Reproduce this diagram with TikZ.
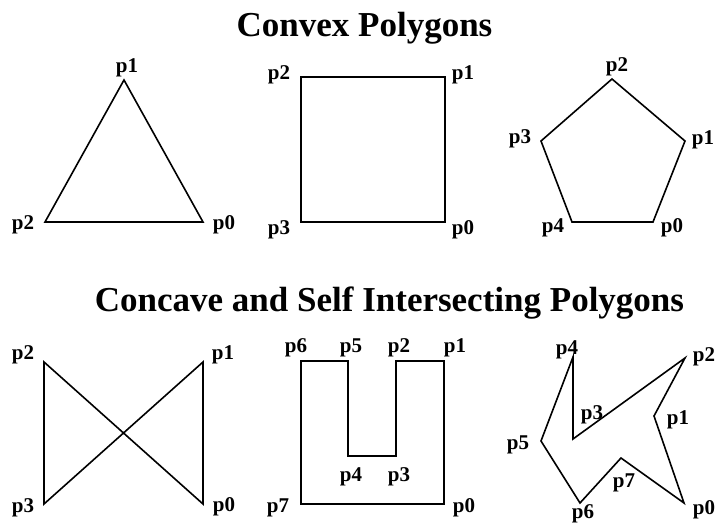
\documentclass[tikz,border=0pt]{standalone}
\usepackage{fontspec}
\setmainfont{Liberation Serif}
\begin{document}
\begin{tikzpicture}[x=1pt,y=-1pt,
  poly/.style={draw=black,line width=1.6pt,line join=miter},
  lbl/.style={font=\fontsize{21}{22}\selectfont\bfseries,inner sep=0pt},
  ttl/.style={font=\fontsize{35}{40}\selectfont\bfseries,inner sep=0pt,anchor=base}]
\useasboundingbox[fill=white] (0,0) rectangle (716,524);
% titles
\node[ttl] (t1) at (364.5,37) {Convex Polygons};
\node[ttl] (t2) at (389.5,312) {Concave and Self Intersecting Polygons};
% triangle
\coordinate (a0) at (203,222);
\coordinate (a1) at (124,80);
\coordinate (a2) at (45,222);
\draw[poly] (a0) -- (a1) -- (a2) -- cycle;
\node[lbl] (la1) at (127,68) {p1};
\node[lbl] (la2) at (23,225) {p2};
\node[lbl] (la0) at (224,225) {p0};
% square
\coordinate (b0) at (445,222);
\coordinate (b1) at (445,77);
\coordinate (b2) at (301,77);
\coordinate (b3) at (301,222);
\draw[poly] (b0) -- (b1) -- (b2) -- (b3) -- cycle;
\node[lbl] (lb2) at (279,75) {p2};
\node[lbl] (lb1) at (463,75) {p1};
\node[lbl] (lb3) at (279,230) {p3};
\node[lbl] (lb0) at (463,230) {p0};
% pentagon
\coordinate (c0) at (653,222);
\coordinate (c1) at (685,141);
\coordinate (c2) at (612,79);
\coordinate (c3) at (541,141);
\coordinate (c4) at (572,222);
\draw[poly] (c0) -- (c1) -- (c2) -- (c3) -- (c4) -- cycle;
\node[lbl] (lc2) at (617,67) {p2};
\node[lbl] (lc3) at (520,139) {p3};
\node[lbl] (lc1) at (703,140) {p1};
\node[lbl] (lc4) at (553,228) {p4};
\node[lbl] (lc0) at (672,228) {p0};
% bowtie
\coordinate (d0) at (203,504);
\coordinate (d1) at (203,362);
\coordinate (d2) at (44,362);
\coordinate (d3) at (44,504);
\draw[poly] (d0) -- (d1) -- (d3) -- (d2) -- cycle;
\node[lbl] (ld2) at (23,355) {p2};
\node[lbl] (ld1) at (223,355) {p1};
\node[lbl] (ld3) at (23,508) {p3};
\node[lbl] (ld0) at (224,507) {p0};
% U shape
\coordinate (e0) at (444,504);
\coordinate (e1) at (444,361);
\coordinate (e2) at (396,361);
\coordinate (e3) at (396,456);
\coordinate (e4) at (348,456);
\coordinate (e5) at (348,361);
\coordinate (e6) at (301,361);
\coordinate (e7) at (301,504);
\draw[poly] (e0) -- (e1) -- (e2) -- (e3) -- (e4) -- (e5) -- (e6) -- (e7) -- cycle;
\node[lbl] (le6) at (296,348) {p6};
\node[lbl] (le5) at (351,348) {p5};
\node[lbl] (le2) at (399,348) {p2};
\node[lbl] (le1) at (455,348) {p1};
\node[lbl] (le4) at (351,477) {p4};
\node[lbl] (le3) at (399,477) {p3};
\node[lbl] (le7) at (278,508) {p7};
\node[lbl] (le0) at (464,508) {p0};
% star
\coordinate (f0) at (684,503);
\coordinate (f1) at (654,416);
\coordinate (f2) at (685,358);
\coordinate (f3) at (573,439);
\coordinate (f4) at (573,357);
\coordinate (f5) at (541,441);
\coordinate (f6) at (580,503);
\coordinate (f7) at (621,458);
\draw[poly] (f0) -- (f1) -- (f2) -- (f3) -- (f4) -- (f5) -- (f6) -- (f7) -- cycle;
\node[lbl] (lf4) at (567,350) {p4};
\node[lbl] (lf2) at (704,357) {p2};
\node[lbl] (lf3) at (592,415) {p3};
\node[lbl] (lf1) at (678,420) {p1};
\node[lbl] (lf5) at (518,445) {p5};
\node[lbl] (lf7) at (624,483) {p7};
\node[lbl] (lf6) at (583,514) {p6};
\node[lbl] (lf0) at (704,510) {p0};
\end{tikzpicture}
\end{document}
